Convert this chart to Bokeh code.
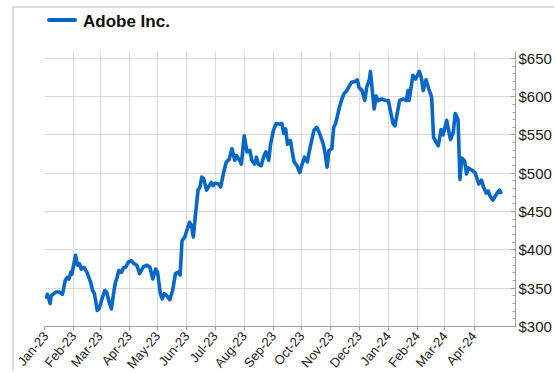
import math
import pandas as pd
from bokeh.plotting import figure
from bokeh.layouts import column
from bokeh.models import (Range1d, FixedTicker, DatetimeTickFormatter, NumeralTickFormatter,
                          SingleIntervalTicker, ColumnDataSource, Div)
from bokeh.embed import file_html
from bokeh.resources import INLINE

series_name = "Adobe Inc."
series_color = "#0866c6"

tick_months = ["2023-01-01", "2023-02-01", "2023-03-01", "2023-04-01", "2023-05-01", "2023-06-01",
               "2023-07-01", "2023-08-01", "2023-09-01", "2023-10-01", "2023-11-01", "2023-12-01",
               "2024-01-01", "2024-02-01", "2024-03-01", "2024-04-01"]

dates = [
    "2023-01-03", "2023-01-04", "2023-01-07", "2023-01-08", "2023-01-13", "2023-01-17", "2023-01-20",
    "2023-01-23", "2023-01-25", "2023-01-27", "2023-01-29", "2023-01-30", "2023-02-03", "2023-02-05",
    "2023-02-07", "2023-02-09", "2023-02-12", "2023-02-15", "2023-02-19", "2023-02-21", "2023-02-23",
    "2023-02-26", "2023-02-28", "2023-03-03", "2023-03-06", "2023-03-08", "2023-03-11", "2023-03-13",
    "2023-03-14", "2023-03-17", "2023-03-19", "2023-03-21", "2023-03-24", "2023-03-26", "2023-03-28",
    "2023-03-31", "2023-04-03", "2023-04-06", "2023-04-09", "2023-04-12", "2023-04-16", "2023-04-20",
    "2023-04-23", "2023-04-26", "2023-04-29", "2023-05-01", "2023-05-04", "2023-05-06", "2023-05-08",
    "2023-05-11", "2023-05-14", "2023-05-17", "2023-05-20", "2023-05-23", "2023-05-25", "2023-05-27",
    "2023-05-30", "2023-06-01", "2023-06-04", "2023-06-06", "2023-06-08", "2023-06-10", "2023-06-13",
    "2023-06-15", "2023-06-17", "2023-06-19", "2023-06-22", "2023-06-24", "2023-06-27", "2023-06-29",
    "2023-07-01", "2023-07-05", "2023-07-07", "2023-07-10", "2023-07-13", "2023-07-16", "2023-07-19",
    "2023-07-22", "2023-07-24", "2023-07-27", "2023-07-29", "2023-08-01", "2023-08-04", "2023-08-07",
    "2023-08-09", "2023-08-12", "2023-08-14", "2023-08-16", "2023-08-19", "2023-08-22", "2023-08-24",
    "2023-08-27", "2023-08-29", "2023-09-01", "2023-09-04", "2023-09-08", "2023-09-10", "2023-09-12",
    "2023-09-14", "2023-09-16", "2023-09-19", "2023-09-21", "2023-09-23", "2023-09-26", "2023-09-29",
    "2023-10-01", "2023-10-04", "2023-10-07", "2023-10-09", "2023-10-12", "2023-10-14", "2023-10-17",
    "2023-10-20", "2023-10-22", "2023-10-24", "2023-10-26", "2023-10-28", "2023-10-30", "2023-11-02",
    "2023-11-04", "2023-11-06", "2023-11-09", "2023-11-10", "2023-11-13", "2023-11-15", "2023-11-18",
    "2023-11-21", "2023-11-23", "2023-11-27", "2023-11-29", "2023-12-01", "2023-12-04", "2023-12-07",
    "2023-12-09", "2023-12-12", "2023-12-13", "2023-12-15", "2023-12-17", "2023-12-19", "2023-12-21",
    "2023-12-25", "2023-12-29", "2024-01-01", "2024-01-04", "2024-01-06", "2024-01-08", "2024-01-11",
    "2024-01-13", "2024-01-17", "2024-01-20", "2024-01-22", "2024-01-23", "2024-01-26", "2024-01-27",
    "2024-01-30", "2024-02-01", "2024-02-03", "2024-02-05", "2024-02-07", "2024-02-10", "2024-02-13",
    "2024-02-15", "2024-02-16", "2024-02-18", "2024-02-21", "2024-02-23", "2024-02-26", "2024-02-28",
    "2024-03-03", "2024-03-05", "2024-03-07", "2024-03-10", "2024-03-12", "2024-03-15", "2024-03-17",
    "2024-03-19", "2024-03-22", "2024-03-24", "2024-03-26", "2024-03-31", "2024-04-02", "2024-04-05",
    "2024-04-06", "2024-04-09", "2024-04-11", "2024-04-14", "2024-04-16", "2024-04-18", "2024-04-21",
    "2024-04-24", "2024-04-26", "2024-04-28", "2024-04-30",
]

prices = [
    336, 342, 330, 340, 345, 345, 342,
    360, 364, 362, 371, 368, 393, 380,
    382, 375, 377, 371, 358, 347, 343,
    321, 323, 336, 347, 345, 330, 323,
    332, 356, 364, 373, 371, 377, 377,
    384, 386, 382, 380, 369, 378, 380,
    377, 362, 375, 371, 343, 336, 343,
    340, 335, 347, 369, 371, 367, 412,
    417, 425, 436, 432, 417, 443, 478,
    482, 495, 493, 478, 482, 488, 484,
    487, 486, 482, 500, 515, 518, 532,
    517, 523, 517, 512, 549, 528, 530,
    517, 512, 521, 512, 510, 523, 528,
    517, 538, 556, 565, 564, 565, 552,
    558, 538, 543, 528, 515, 510, 501,
    510, 521, 515, 528, 545, 556, 560,
    552, 545, 538, 525, 508, 530, 532,
    560, 565, 580, 586, 598, 604, 608,
    615, 619, 620, 622, 612, 608, 595,
    612, 623, 633, 608, 584, 601, 595,
    597, 595, 595, 577, 565, 562, 582,
    595, 597, 595, 608, 595, 619, 628,
    623, 628, 633, 625, 608, 622, 610,
    603, 599, 547, 540, 536, 557, 550,
    569, 556, 544, 554, 578, 570, 492,
    520, 516, 499, 507, 503, 501, 490,
    486, 491, 482, 474, 477, 470, 465,
    471, 475, 478, 473,
]

x_start = "2023-01-01"
x_end = "2024-05-15"
y_min, y_max = 300, 659

FONT = "Liberation Sans"
AXIS_GRAY = "#a0a0a0"
GRID_GRAY = "#d9d9d9"
FRAME_GRAY = "#dcdcdc"

src = ColumnDataSource(dict(date=pd.to_datetime(dates), price=prices))

# frame: 19 px below figure top, 275 px tall; 55 px reserved below for rotated labels
p = figure(width=540, height=349, x_axis_type="datetime", y_axis_location="right",
           output_backend="svg", toolbar_location=None,
           x_range=Range1d(pd.Timestamp(x_start), pd.Timestamp(x_end)),
           y_range=Range1d(y_min, y_max),
           min_border_left=30, min_border_right=38, min_border_top=19, min_border_bottom=55,
           margin=(0, 0, 0, 0))
p.outline_line_color = None
p.background_fill_color = "white"
p.border_fill_color = "white"

p.line("date", "price", source=src, line_color=series_color, line_width=3.6, line_join="round")

tick_ms = [int(t.value // 10**6) for t in pd.to_datetime(tick_months)]
xa = p.xaxis[0]
xa.ticker = FixedTicker(ticks=tick_ms)
xa.formatter = DatetimeTickFormatter(months="%b-%y", days="%b-%y", years="%b-%y", hours="%b-%y")
xa.major_label_orientation = math.radians(50)
xa.major_label_text_font = FONT
xa.major_label_text_font_size = "13px"
xa.major_label_text_color = "#1a1a1a"
xa.axis_line_color = AXIS_GRAY
xa.major_tick_line_color = AXIS_GRAY
xa.major_tick_in = 0
xa.major_tick_out = 4
xa.minor_tick_line_color = None
xa.major_label_standoff = 3

ya = p.yaxis[0]
ya.ticker = SingleIntervalTicker(interval=50, num_minor_ticks=5)
ya.formatter = NumeralTickFormatter(format="$0")
ya.major_label_text_font = FONT
ya.major_label_text_font_size = "15px"
ya.major_label_text_color = "#1a1a1a"
ya.axis_line_color = AXIS_GRAY
ya.major_tick_line_color = AXIS_GRAY
ya.minor_tick_line_color = AXIS_GRAY
ya.major_tick_in = 5
ya.major_tick_out = 0
ya.minor_tick_in = 3
ya.minor_tick_out = 0
ya.major_label_standoff = 3

p.xgrid.grid_line_color = GRID_GRAY
p.ygrid.grid_line_color = GRID_GRAY

legend_html = (
    '<div style="position:relative;width:520px;height:24px;">'
    f'<div style="position:absolute;left:33px;top:10px;width:30px;height:4px;background:{series_color};border-radius:2px;"></div>'
    f'<div style="position:absolute;left:69px;top:3px;font-family:\'{FONT}\';font-weight:bold;'
    f'font-size:17px;line-height:22px;color:#111111;white-space:nowrap;">{series_name}</div>'
    '</div>'
)
legend_div = Div(text=legend_html, width=540, height=24, margin=(0, 0, 0, 0))

layout = column(legend_div, p, margin=(6, 0, 0, 12), spacing=0, width=542, height=365,
                styles={"border-top": f"2px solid {FRAME_GRAY}", "border-left": f"2px solid {FRAME_GRAY}",
                        "background": "white", "overflow": "hidden"})

open("out.html", "w").write(file_html(layout, INLINE))
